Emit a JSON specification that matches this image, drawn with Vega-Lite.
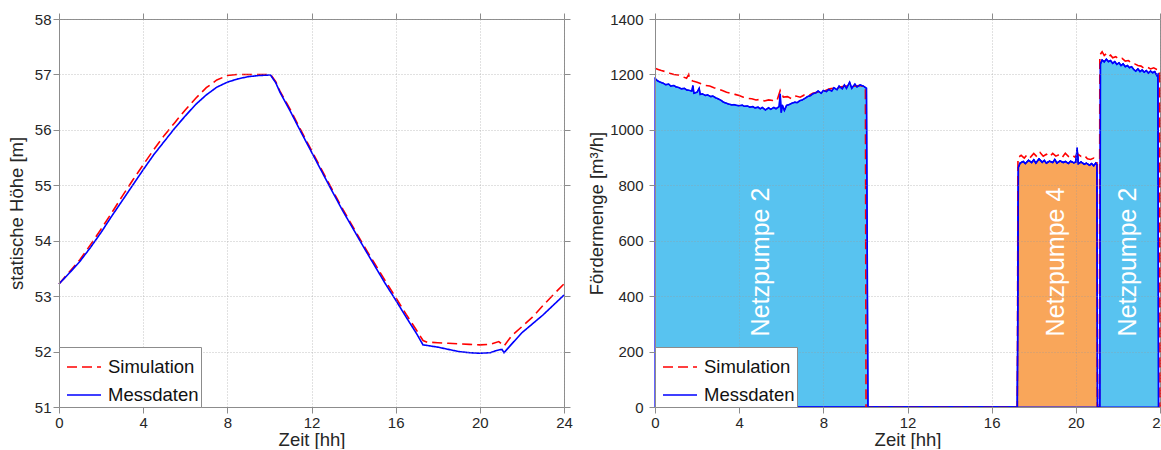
{
  "$schema": "https://vega.github.io/schema/vega-lite/v6.json",
  "background": "white",
  "padding": {"left": 6, "top": 11, "right": 0, "bottom": 0},
  "spacing": 91,
  "bounds": "flush",
  "datasets": {
    "h": [
      {"t":0,"v":53.22,"s":"Simulation"},{"t":0.5,"v":53.44,"s":"Simulation"},{"t":1,"v":53.66,"s":"Simulation"},{"t":1.5,"v":53.93,"s":"Simulation"},{"t":2,"v":54.21,"s":"Simulation"},{"t":2.5,"v":54.5,"s":"Simulation"},{"t":3,"v":54.8,"s":"Simulation"},{"t":3.5,"v":55.09,"s":"Simulation"},{"t":4,"v":55.37,"s":"Simulation"},{"t":4.5,"v":55.64,"s":"Simulation"},{"t":5,"v":55.9,"s":"Simulation"},{"t":5.5,"v":56.13,"s":"Simulation"},{"t":6,"v":56.36,"s":"Simulation"},{"t":6.5,"v":56.57,"s":"Simulation"},{"t":7,"v":56.76,"s":"Simulation"},{"t":7.5,"v":56.9,"s":"Simulation"},{"t":8,"v":56.98,"s":"Simulation"},{"t":8.5,"v":57.0,"s":"Simulation"},{"t":9,"v":57.0,"s":"Simulation"},{"t":9.5,"v":57.0,"s":"Simulation"},{"t":10.05,"v":57.0,"s":"Simulation"},{"t":10.3,"v":56.87,"s":"Simulation"},{"t":10.5,"v":56.7,"s":"Simulation"},{"t":11,"v":56.36,"s":"Simulation"},{"t":11.5,"v":55.99,"s":"Simulation"},{"t":12,"v":55.63,"s":"Simulation"},{"t":12.5,"v":55.27,"s":"Simulation"},{"t":13,"v":54.91,"s":"Simulation"},{"t":13.5,"v":54.56,"s":"Simulation"},{"t":14,"v":54.23,"s":"Simulation"},{"t":14.5,"v":53.9,"s":"Simulation"},{"t":15,"v":53.59,"s":"Simulation"},{"t":15.5,"v":53.28,"s":"Simulation"},{"t":16,"v":52.98,"s":"Simulation"},{"t":16.5,"v":52.67,"s":"Simulation"},{"t":17,"v":52.38,"s":"Simulation"},{"t":17.3,"v":52.2,"s":"Simulation"},{"t":17.5,"v":52.17,"s":"Simulation"},{"t":18,"v":52.16,"s":"Simulation"},{"t":18.5,"v":52.15,"s":"Simulation"},{"t":19,"v":52.14,"s":"Simulation"},{"t":19.5,"v":52.13,"s":"Simulation"},{"t":20,"v":52.12,"s":"Simulation"},{"t":20.5,"v":52.13,"s":"Simulation"},{"t":20.9,"v":52.18,"s":"Simulation"},{"t":21.15,"v":52.1,"s":"Simulation"},{"t":21.5,"v":52.28,"s":"Simulation"},{"t":22,"v":52.45,"s":"Simulation"},{"t":22.5,"v":52.62,"s":"Simulation"},{"t":23,"v":52.83,"s":"Simulation"},{"t":23.5,"v":53.03,"s":"Simulation"},{"t":24,"v":53.22,"s":"Simulation"},
      {"t":0,"v":53.22,"s":"Messdaten"},{"t":0.5,"v":53.42,"s":"Messdaten"},{"t":1,"v":53.63,"s":"Messdaten"},{"t":1.5,"v":53.88,"s":"Messdaten"},{"t":2,"v":54.15,"s":"Messdaten"},{"t":2.5,"v":54.44,"s":"Messdaten"},{"t":3,"v":54.72,"s":"Messdaten"},{"t":3.5,"v":55.0,"s":"Messdaten"},{"t":4,"v":55.28,"s":"Messdaten"},{"t":4.5,"v":55.55,"s":"Messdaten"},{"t":5,"v":55.79,"s":"Messdaten"},{"t":5.5,"v":56.03,"s":"Messdaten"},{"t":6,"v":56.25,"s":"Messdaten"},{"t":6.5,"v":56.46,"s":"Messdaten"},{"t":7,"v":56.63,"s":"Messdaten"},{"t":7.5,"v":56.77,"s":"Messdaten"},{"t":8,"v":56.86,"s":"Messdaten"},{"t":8.5,"v":56.92,"s":"Messdaten"},{"t":9,"v":56.96,"s":"Messdaten"},{"t":9.5,"v":56.98,"s":"Messdaten"},{"t":10.05,"v":56.99,"s":"Messdaten"},{"t":10.3,"v":56.85,"s":"Messdaten"},{"t":10.5,"v":56.68,"s":"Messdaten"},{"t":11,"v":56.33,"s":"Messdaten"},{"t":11.5,"v":55.96,"s":"Messdaten"},{"t":12,"v":55.6,"s":"Messdaten"},{"t":12.5,"v":55.24,"s":"Messdaten"},{"t":13,"v":54.88,"s":"Messdaten"},{"t":13.5,"v":54.53,"s":"Messdaten"},{"t":14,"v":54.2,"s":"Messdaten"},{"t":14.5,"v":53.87,"s":"Messdaten"},{"t":15,"v":53.55,"s":"Messdaten"},{"t":15.5,"v":53.23,"s":"Messdaten"},{"t":16,"v":52.93,"s":"Messdaten"},{"t":16.5,"v":52.62,"s":"Messdaten"},{"t":17,"v":52.32,"s":"Messdaten"},{"t":17.3,"v":52.12,"s":"Messdaten"},{"t":17.5,"v":52.11,"s":"Messdaten"},{"t":18,"v":52.08,"s":"Messdaten"},{"t":18.5,"v":52.04,"s":"Messdaten"},{"t":19,"v":52.0,"s":"Messdaten"},{"t":19.5,"v":51.98,"s":"Messdaten"},{"t":20,"v":51.97,"s":"Messdaten"},{"t":20.5,"v":51.98,"s":"Messdaten"},{"t":20.8,"v":52.02,"s":"Messdaten"},{"t":21.05,"v":52.04,"s":"Messdaten"},{"t":21.15,"v":51.98,"s":"Messdaten"},{"t":21.5,"v":52.13,"s":"Messdaten"},{"t":22,"v":52.34,"s":"Messdaten"},{"t":22.5,"v":52.5,"s":"Messdaten"},{"t":23,"v":52.66,"s":"Messdaten"},{"t":23.5,"v":52.84,"s":"Messdaten"},{"t":24,"v":53.02,"s":"Messdaten"}
    ],
    "q": [
      {"t":0,"v":1222,"s":"Simulation"},{"t":0.15,"v":1218,"s":"Simulation"},{"t":0.3,"v":1214,"s":"Simulation"},{"t":0.5,"v":1210,"s":"Simulation"},{"t":0.7,"v":1204,"s":"Simulation"},{"t":0.9,"v":1200,"s":"Simulation"},{"t":1.1,"v":1198,"s":"Simulation"},{"t":1.3,"v":1192,"s":"Simulation"},{"t":1.5,"v":1186,"s":"Simulation"},{"t":1.6,"v":1200,"s":"Simulation"},{"t":1.65,"v":1182,"s":"Simulation"},{"t":1.8,"v":1176,"s":"Simulation"},{"t":2.0,"v":1172,"s":"Simulation"},{"t":2.2,"v":1166,"s":"Simulation"},{"t":2.4,"v":1160,"s":"Simulation"},{"t":2.6,"v":1158,"s":"Simulation"},{"t":2.8,"v":1152,"s":"Simulation"},{"t":3.0,"v":1148,"s":"Simulation"},{"t":3.2,"v":1142,"s":"Simulation"},{"t":3.4,"v":1136,"s":"Simulation"},{"t":3.6,"v":1132,"s":"Simulation"},{"t":3.8,"v":1128,"s":"Simulation"},{"t":4.0,"v":1124,"s":"Simulation"},{"t":4.2,"v":1118,"s":"Simulation"},{"t":4.4,"v":1114,"s":"Simulation"},{"t":4.6,"v":1112,"s":"Simulation"},{"t":4.8,"v":1108,"s":"Simulation"},{"t":5.0,"v":1110,"s":"Simulation"},{"t":5.2,"v":1104,"s":"Simulation"},{"t":5.4,"v":1108,"s":"Simulation"},{"t":5.6,"v":1106,"s":"Simulation"},{"t":5.8,"v":1106,"s":"Simulation"},{"t":5.95,"v":1142,"s":"Simulation"},{"t":6.1,"v":1118,"s":"Simulation"},{"t":6.3,"v":1120,"s":"Simulation"},{"t":6.5,"v":1112,"s":"Simulation"},{"t":6.7,"v":1122,"s":"Simulation"},{"t":6.9,"v":1118,"s":"Simulation"},{"t":7.1,"v":1126,"s":"Simulation"},{"t":7.3,"v":1124,"s":"Simulation"},{"t":7.5,"v":1132,"s":"Simulation"},{"t":7.7,"v":1136,"s":"Simulation"},{"t":7.9,"v":1140,"s":"Simulation"},{"t":8.1,"v":1142,"s":"Simulation"},{"t":8.3,"v":1148,"s":"Simulation"},{"t":8.5,"v":1150,"s":"Simulation"},{"t":8.7,"v":1152,"s":"Simulation"},{"t":8.9,"v":1156,"s":"Simulation"},{"t":9.1,"v":1158,"s":"Simulation"},{"t":9.3,"v":1160,"s":"Simulation"},{"t":9.5,"v":1158,"s":"Simulation"},{"t":9.7,"v":1160,"s":"Simulation"},{"t":9.9,"v":1157,"s":"Simulation"},{"t":10.0,"v":1155,"s":"Simulation"},{"t":10.03,"v":0,"s":"Simulation"},{"t":17.22,"v":0,"s":"Simulation"},{"t":17.25,"v":900,"s":"Simulation"},{"t":17.4,"v":908,"s":"Simulation"},{"t":17.55,"v":898,"s":"Simulation"},{"t":17.7,"v":912,"s":"Simulation"},{"t":17.85,"v":902,"s":"Simulation"},{"t":18.0,"v":915,"s":"Simulation"},{"t":18.15,"v":903,"s":"Simulation"},{"t":18.3,"v":918,"s":"Simulation"},{"t":18.45,"v":905,"s":"Simulation"},{"t":18.6,"v":912,"s":"Simulation"},{"t":18.75,"v":903,"s":"Simulation"},{"t":18.9,"v":915,"s":"Simulation"},{"t":19.05,"v":905,"s":"Simulation"},{"t":19.2,"v":910,"s":"Simulation"},{"t":19.35,"v":900,"s":"Simulation"},{"t":19.5,"v":916,"s":"Simulation"},{"t":19.65,"v":904,"s":"Simulation"},{"t":19.8,"v":910,"s":"Simulation"},{"t":19.95,"v":902,"s":"Simulation"},{"t":20.1,"v":912,"s":"Simulation"},{"t":20.25,"v":904,"s":"Simulation"},{"t":20.4,"v":908,"s":"Simulation"},{"t":20.55,"v":896,"s":"Simulation"},{"t":20.7,"v":893,"s":"Simulation"},{"t":20.85,"v":898,"s":"Simulation"},{"t":21.0,"v":890,"s":"Simulation"},{"t":21.02,"v":0,"s":"Simulation"},{"t":21.12,"v":0,"s":"Simulation"},{"t":21.14,"v":1270,"s":"Simulation"},{"t":21.25,"v":1282,"s":"Simulation"},{"t":21.35,"v":1268,"s":"Simulation"},{"t":21.45,"v":1275,"s":"Simulation"},{"t":21.55,"v":1265,"s":"Simulation"},{"t":21.65,"v":1270,"s":"Simulation"},{"t":21.75,"v":1260,"s":"Simulation"},{"t":21.9,"v":1264,"s":"Simulation"},{"t":22.05,"v":1255,"s":"Simulation"},{"t":22.2,"v":1258,"s":"Simulation"},{"t":22.35,"v":1248,"s":"Simulation"},{"t":22.5,"v":1250,"s":"Simulation"},{"t":22.65,"v":1240,"s":"Simulation"},{"t":22.8,"v":1238,"s":"Simulation"},{"t":22.95,"v":1232,"s":"Simulation"},{"t":23.1,"v":1230,"s":"Simulation"},{"t":23.25,"v":1222,"s":"Simulation"},{"t":23.4,"v":1226,"s":"Simulation"},{"t":23.55,"v":1220,"s":"Simulation"},{"t":23.7,"v":1224,"s":"Simulation"},{"t":23.85,"v":1218,"s":"Simulation"},{"t":23.98,"v":1216,"s":"Simulation"},{"t":24.0,"v":0,"s":"Simulation"},
      {"t":0,"v":1186,"s":"Messdaten","g":"2a"},{"t":0.1,"v":1178,"s":"Messdaten","g":"2a"},{"t":0.25,"v":1172,"s":"Messdaten","g":"2a"},{"t":0.4,"v":1168,"s":"Messdaten","g":"2a"},{"t":0.5,"v":1163,"s":"Messdaten","g":"2a"},{"t":0.65,"v":1165,"s":"Messdaten","g":"2a"},{"t":0.75,"v":1158,"s":"Messdaten","g":"2a"},{"t":0.9,"v":1160,"s":"Messdaten","g":"2a"},{"t":1.0,"v":1155,"s":"Messdaten","g":"2a"},{"t":1.15,"v":1152,"s":"Messdaten","g":"2a"},{"t":1.25,"v":1148,"s":"Messdaten","g":"2a"},{"t":1.4,"v":1150,"s":"Messdaten","g":"2a"},{"t":1.5,"v":1144,"s":"Messdaten","g":"2a"},{"t":1.65,"v":1142,"s":"Messdaten","g":"2a"},{"t":1.75,"v":1140,"s":"Messdaten","g":"2a"},{"t":1.8,"v":1160,"s":"Messdaten","g":"2a"},{"t":1.85,"v":1132,"s":"Messdaten","g":"2a"},{"t":2.0,"v":1136,"s":"Messdaten","g":"2a"},{"t":2.1,"v":1150,"s":"Messdaten","g":"2a"},{"t":2.15,"v":1128,"s":"Messdaten","g":"2a"},{"t":2.25,"v":1130,"s":"Messdaten","g":"2a"},{"t":2.4,"v":1124,"s":"Messdaten","g":"2a"},{"t":2.5,"v":1126,"s":"Messdaten","g":"2a"},{"t":2.65,"v":1120,"s":"Messdaten","g":"2a"},{"t":2.75,"v":1122,"s":"Messdaten","g":"2a"},{"t":2.9,"v":1115,"s":"Messdaten","g":"2a"},{"t":3.0,"v":1112,"s":"Messdaten","g":"2a"},{"t":3.15,"v":1106,"s":"Messdaten","g":"2a"},{"t":3.25,"v":1100,"s":"Messdaten","g":"2a"},{"t":3.4,"v":1096,"s":"Messdaten","g":"2a"},{"t":3.5,"v":1093,"s":"Messdaten","g":"2a"},{"t":3.65,"v":1090,"s":"Messdaten","g":"2a"},{"t":3.75,"v":1091,"s":"Messdaten","g":"2a"},{"t":3.9,"v":1088,"s":"Messdaten","g":"2a"},{"t":4.0,"v":1087,"s":"Messdaten","g":"2a"},{"t":4.15,"v":1089,"s":"Messdaten","g":"2a"},{"t":4.25,"v":1085,"s":"Messdaten","g":"2a"},{"t":4.4,"v":1086,"s":"Messdaten","g":"2a"},{"t":4.5,"v":1082,"s":"Messdaten","g":"2a"},{"t":4.65,"v":1084,"s":"Messdaten","g":"2a"},{"t":4.75,"v":1079,"s":"Messdaten","g":"2a"},{"t":4.9,"v":1082,"s":"Messdaten","g":"2a"},{"t":5.0,"v":1076,"s":"Messdaten","g":"2a"},{"t":5.1,"v":1081,"s":"Messdaten","g":"2a"},{"t":5.25,"v":1072,"s":"Messdaten","g":"2a"},{"t":5.4,"v":1080,"s":"Messdaten","g":"2a"},{"t":5.5,"v":1074,"s":"Messdaten","g":"2a"},{"t":5.65,"v":1081,"s":"Messdaten","g":"2a"},{"t":5.75,"v":1076,"s":"Messdaten","g":"2a"},{"t":5.9,"v":1084,"s":"Messdaten","g":"2a"},{"t":5.95,"v":1130,"s":"Messdaten","g":"2a"},{"t":6.0,"v":1062,"s":"Messdaten","g":"2a"},{"t":6.05,"v":1090,"s":"Messdaten","g":"2a"},{"t":6.15,"v":1070,"s":"Messdaten","g":"2a"},{"t":6.25,"v":1088,"s":"Messdaten","g":"2a"},{"t":6.4,"v":1092,"s":"Messdaten","g":"2a"},{"t":6.5,"v":1096,"s":"Messdaten","g":"2a"},{"t":6.65,"v":1100,"s":"Messdaten","g":"2a"},{"t":6.75,"v":1098,"s":"Messdaten","g":"2a"},{"t":6.9,"v":1106,"s":"Messdaten","g":"2a"},{"t":7.0,"v":1108,"s":"Messdaten","g":"2a"},{"t":7.15,"v":1115,"s":"Messdaten","g":"2a"},{"t":7.25,"v":1120,"s":"Messdaten","g":"2a"},{"t":7.4,"v":1124,"s":"Messdaten","g":"2a"},{"t":7.5,"v":1130,"s":"Messdaten","g":"2a"},{"t":7.65,"v":1134,"s":"Messdaten","g":"2a"},{"t":7.75,"v":1140,"s":"Messdaten","g":"2a"},{"t":7.9,"v":1132,"s":"Messdaten","g":"2a"},{"t":8.0,"v":1142,"s":"Messdaten","g":"2a"},{"t":8.15,"v":1138,"s":"Messdaten","g":"2a"},{"t":8.25,"v":1146,"s":"Messdaten","g":"2a"},{"t":8.4,"v":1140,"s":"Messdaten","g":"2a"},{"t":8.5,"v":1152,"s":"Messdaten","g":"2a"},{"t":8.65,"v":1145,"s":"Messdaten","g":"2a"},{"t":8.75,"v":1158,"s":"Messdaten","g":"2a"},{"t":8.9,"v":1148,"s":"Messdaten","g":"2a"},{"t":9.0,"v":1162,"s":"Messdaten","g":"2a"},{"t":9.1,"v":1150,"s":"Messdaten","g":"2a"},{"t":9.25,"v":1172,"s":"Messdaten","g":"2a"},{"t":9.35,"v":1150,"s":"Messdaten","g":"2a"},{"t":9.5,"v":1165,"s":"Messdaten","g":"2a"},{"t":9.6,"v":1155,"s":"Messdaten","g":"2a"},{"t":9.75,"v":1162,"s":"Messdaten","g":"2a"},{"t":9.9,"v":1158,"s":"Messdaten","g":"2a"},{"t":10.05,"v":1150,"s":"Messdaten","g":"2a"},{"t":10.12,"v":0,"s":"Messdaten","g":"2a"},
      {"t":17.22,"v":0,"s":"Messdaten","g":"4"},{"t":17.27,"v":865,"s":"Messdaten","g":"4"},{"t":17.35,"v":880,"s":"Messdaten","g":"4"},{"t":17.5,"v":886,"s":"Messdaten","g":"4"},{"t":17.6,"v":878,"s":"Messdaten","g":"4"},{"t":17.75,"v":890,"s":"Messdaten","g":"4"},{"t":17.9,"v":882,"s":"Messdaten","g":"4"},{"t":18.0,"v":892,"s":"Messdaten","g":"4"},{"t":18.1,"v":880,"s":"Messdaten","g":"4"},{"t":18.25,"v":895,"s":"Messdaten","g":"4"},{"t":18.4,"v":883,"s":"Messdaten","g":"4"},{"t":18.5,"v":890,"s":"Messdaten","g":"4"},{"t":18.6,"v":880,"s":"Messdaten","g":"4"},{"t":18.75,"v":887,"s":"Messdaten","g":"4"},{"t":18.9,"v":882,"s":"Messdaten","g":"4"},{"t":19.0,"v":893,"s":"Messdaten","g":"4"},{"t":19.1,"v":880,"s":"Messdaten","g":"4"},{"t":19.25,"v":888,"s":"Messdaten","g":"4"},{"t":19.4,"v":882,"s":"Messdaten","g":"4"},{"t":19.5,"v":886,"s":"Messdaten","g":"4"},{"t":19.65,"v":879,"s":"Messdaten","g":"4"},{"t":19.75,"v":887,"s":"Messdaten","g":"4"},{"t":19.9,"v":881,"s":"Messdaten","g":"4"},{"t":20.0,"v":884,"s":"Messdaten","g":"4"},{"t":20.06,"v":935,"s":"Messdaten","g":"4"},{"t":20.12,"v":878,"s":"Messdaten","g":"4"},{"t":20.25,"v":884,"s":"Messdaten","g":"4"},{"t":20.4,"v":876,"s":"Messdaten","g":"4"},{"t":20.5,"v":880,"s":"Messdaten","g":"4"},{"t":20.65,"v":872,"s":"Messdaten","g":"4"},{"t":20.75,"v":878,"s":"Messdaten","g":"4"},{"t":20.85,"v":870,"s":"Messdaten","g":"4"},{"t":20.95,"v":880,"s":"Messdaten","g":"4"},{"t":21.0,"v":875,"s":"Messdaten","g":"4"},{"t":21.03,"v":0,"s":"Messdaten","g":"4"},
      {"t":21.14,"v":0,"s":"Messdaten","g":"2b"},{"t":21.17,"v":1238,"s":"Messdaten","g":"2b"},{"t":21.25,"v":1252,"s":"Messdaten","g":"2b"},{"t":21.35,"v":1245,"s":"Messdaten","g":"2b"},{"t":21.45,"v":1255,"s":"Messdaten","g":"2b"},{"t":21.55,"v":1246,"s":"Messdaten","g":"2b"},{"t":21.65,"v":1250,"s":"Messdaten","g":"2b"},{"t":21.75,"v":1240,"s":"Messdaten","g":"2b"},{"t":21.85,"v":1246,"s":"Messdaten","g":"2b"},{"t":21.95,"v":1236,"s":"Messdaten","g":"2b"},{"t":22.05,"v":1242,"s":"Messdaten","g":"2b"},{"t":22.15,"v":1232,"s":"Messdaten","g":"2b"},{"t":22.25,"v":1238,"s":"Messdaten","g":"2b"},{"t":22.35,"v":1228,"s":"Messdaten","g":"2b"},{"t":22.45,"v":1232,"s":"Messdaten","g":"2b"},{"t":22.55,"v":1224,"s":"Messdaten","g":"2b"},{"t":22.65,"v":1228,"s":"Messdaten","g":"2b"},{"t":22.75,"v":1218,"s":"Messdaten","g":"2b"},{"t":22.85,"v":1212,"s":"Messdaten","g":"2b"},{"t":22.95,"v":1220,"s":"Messdaten","g":"2b"},{"t":23.05,"v":1210,"s":"Messdaten","g":"2b"},{"t":23.15,"v":1216,"s":"Messdaten","g":"2b"},{"t":23.25,"v":1208,"s":"Messdaten","g":"2b"},{"t":23.35,"v":1214,"s":"Messdaten","g":"2b"},{"t":23.45,"v":1205,"s":"Messdaten","g":"2b"},{"t":23.55,"v":1212,"s":"Messdaten","g":"2b"},{"t":23.65,"v":1206,"s":"Messdaten","g":"2b"},{"t":23.75,"v":1210,"s":"Messdaten","g":"2b"},{"t":23.85,"v":1196,"s":"Messdaten","g":"2b"},{"t":23.9,"v":1200,"s":"Messdaten","g":"2b"},{"t":23.93,"v":0,"s":"Messdaten","g":"2b"}
    ],
    "lbl": [
      {"t":5.03,"v":523,"txt":"Netzpumpe 2"},
      {"t":19.05,"v":523,"txt":"Netzpumpe 4"},
      {"t":22.5,"v":523,"txt":"Netzpumpe 2"}
    ]
  },
  "hconcat": [
    {
      "width": 505,
      "height": 388,
      "data": {"name": "h"},
      "layer": [
        {
          "mark": {"type": "line", "strokeWidth": 1.6},
          "encoding": {
            "x": {"field": "t", "type": "quantitative", "scale": {"domain": [0, 24], "nice": false},
                  "axis": {"values": [0,4,8,12,16,20,24], "title": "Zeit [hh]", "grid": true, "zindex": 1, "labelPadding": 2, "titlePadding": 0}},
            "y": {"field": "v", "type": "quantitative", "scale": {"domain": [51, 58], "nice": false, "zero": false},
                  "axis": {"values": [51,52,53,54,55,56,57,58], "title": "statische Höhe [m]", "grid": true, "zindex": 1, "labelPadding": 2, "titlePadding": 8}},
            "color": {"field": "s", "type": "nominal", "scale": {"domain": ["Simulation", "Messdaten"], "range": ["#FF0000", "#0000FF"]}, "legend": {"title": null}},
            "strokeDash": {"field": "s", "type": "nominal", "scale": {"domain": ["Simulation", "Messdaten"], "range": [[10, 5], [1, 0]]}, "legend": {"title": null}}
          }
        },
        {
          "mark": {"type": "point", "opacity": 0},
          "encoding": {
            "x": {"field": "t", "type": "quantitative", "axis": {"orient": "top", "values": [0,4,8,12,16,20,24], "labels": false, "title": null, "grid": false, "domain": false}},
            "y": {"field": "v", "type": "quantitative", "axis": {"orient": "right", "values": [51,52,53,54,55,56,57,58], "labels": false, "title": null, "grid": false, "domain": false}}
          }
        }
      ],
      "resolve": {"axis": {"x": "independent", "y": "independent"}}
    },
    {
      "width": 505,
      "height": 388,
      "data": {"name": "q"},
      "layer": [
        {
          "transform": [{"filter": "datum.g != null"}],
          "mark": {"type": "area", "stroke": "#0000FF", "strokeWidth": 1.2},
          "encoding": {
            "x": {"field": "t", "type": "quantitative", "scale": {"domain": [0, 24], "nice": false},
                  "axis": {"values": [0,4,8,12,16,20,24], "title": "Zeit [hh]", "grid": true, "zindex": 1, "labelPadding": 2, "titlePadding": 0}},
            "y": {"field": "v", "type": "quantitative", "scale": {"domain": [0, 1400], "nice": false},
                  "axis": {"values": [0,200,400,600,800,1000,1200,1400], "format": "d", "title": "Fördermenge [m³/h]", "grid": true, "zindex": 1, "labelPadding": 6, "titlePadding": 3}},
            "fill": {"field": "g", "type": "nominal", "scale": {"domain": ["2a", "4", "2b"], "range": ["#58C3F0", "#F9A65A", "#58C3F0"]}, "legend": null}
          }
        },
        {
          "data": {"name": "lbl"},
          "mark": {"type": "text", "angle": 270, "fontSize": 25, "color": "white", "align": "center", "baseline": "middle", "font": "Liberation Sans"},
          "encoding": {
            "x": {"field": "t", "type": "quantitative", "axis": null},
            "y": {"field": "v", "type": "quantitative", "axis": null},
            "text": {"field": "txt"}
          }
        },
        {
          "mark": {"type": "line", "strokeWidth": 1.6},
          "encoding": {
            "x": {"field": "t", "type": "quantitative", "axis": null},
            "y": {"field": "v", "type": "quantitative", "axis": null},
            "color": {"field": "s", "type": "nominal", "scale": {"domain": ["Simulation", "Messdaten"], "range": ["#FF0000", "#0000FF"]}, "legend": {"title": null}},
            "strokeDash": {"field": "s", "type": "nominal", "scale": {"domain": ["Simulation", "Messdaten"], "range": [[10, 5], [1, 0]]}, "legend": {"title": null}}
          }
        },
        {
          "mark": {"type": "point", "opacity": 0},
          "encoding": {
            "x": {"field": "t", "type": "quantitative", "axis": {"orient": "top", "values": [0,4,8,12,16,20,24], "labels": false, "title": null, "grid": false, "domain": false}},
            "y": {"field": "v", "type": "quantitative", "axis": {"orient": "right", "values": [0,200,400,600,800,1000,1200,1400], "labels": false, "title": null, "grid": false, "domain": false}}
          }
        }
      ],
      "resolve": {"axis": {"x": "independent", "y": "independent"}}
    }
  ],
  "resolve": {
    "scale": {"color": "independent", "strokeDash": "independent"},
    "legend": {"color": "independent", "strokeDash": "independent"}
  },
  "config": {
    "font": "Liberation Sans",
    "view": {"stroke": "#8c8c8c", "strokeWidth": 1},
    "axis": {
      "labelFont": "Liberation Sans",
      "titleFont": "Liberation Sans",
      "labelFontSize": 15,
      "titleFontSize": 18.5,
      "titleFontWeight": "normal",
      "labelColor": "#262626",
      "titleColor": "#262626",
      "domainColor": "#8c8c8c",
      "tickColor": "#8c8c8c",
      "tickSize": 6,
      "gridColor": "#9a9a9a",
      "gridOpacity": 0.6,
      "gridDash": [1, 2],
      "gridWidth": 1,
      "labelFlush": false
    },
    "legend": {
      "orient": "bottom-left",
      "offset": 0,
      "padding": 2,
      "fillColor": "white",
      "strokeColor": "#8c8c8c",
      "symbolType": "stroke",
      "symbolSize": 1156,
      "symbolOffset": 5,
      "symbolStrokeWidth": 1.6,
      "labelFont": "Liberation Sans",
      "labelFontSize": 18.5,
      "labelColor": "#111111",
      "labelOffset": 6,
      "rowPadding": 0,
      "zindex": 2
    }
  }
}
